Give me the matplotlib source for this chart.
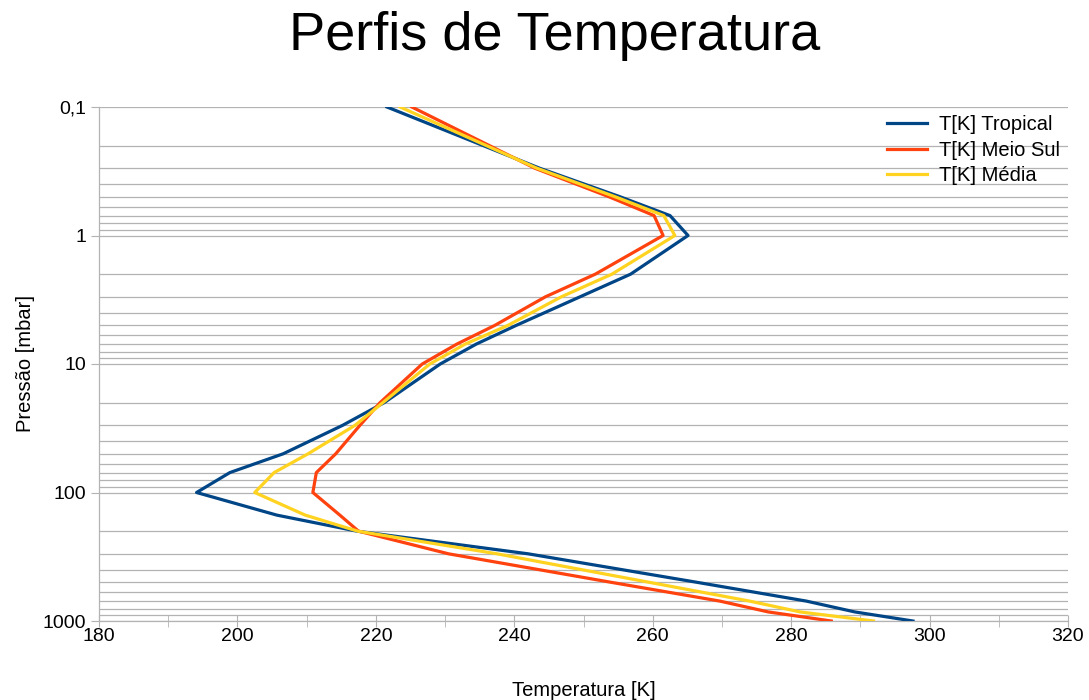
import matplotlib
matplotlib.use("Agg")
import matplotlib.pyplot as plt
from matplotlib.ticker import FixedLocator, FixedFormatter, MultipleLocator, LogLocator, NullFormatter

plt.rcParams['font.family'] = ['Liberation Sans', 'DejaVu Sans']

# Pressure levels [mbar]
pressure = [0.1, 0.3, 0.5, 0.7, 1, 2, 3, 5, 7, 10, 20, 30, 50, 70, 100, 150, 200, 300, 500, 700, 850, 1000]

# Temperature profiles [K]
t_tropical = [221.6, 243.7, 255.3, 262.5, 265.1, 256.8, 249.5, 240.3, 234.5, 229.3, 221.2, 215.2,
              206.6, 198.9, 194.1, 205.7, 217.3, 242.0, 266.4, 282.2, 289.2, 297.6]
t_meio_sul = [225.2, 243.0, 253.7, 260.2, 261.5, 251.7, 244.5, 237.2, 231.7, 226.7, 220.6, 217.7,
              214.2, 211.4, 210.9, 214.8, 217.5, 230.5, 254.0, 269.7, 276.7, 285.8]
t_media = [223.5, 243.3, 254.6, 261.6, 263.2, 254.1, 246.8, 239.1, 232.9, 227.8, 221.0, 217.0,
           210.2, 205.3, 202.5, 209.8, 217.4, 237.5, 259.5, 274.0, 281.3, 291.9]

series = [("T[K] Tropical", t_tropical, "#004586"),
          ("T[K] Meio Sul", t_meio_sul, "#ff420e"),
          ("T[K] Média", t_media, "#ffd320")]

ytick_vals = [0.1, 1, 10, 100, 1000]
ytick_labels = ["0,1", "1", "10", "100", "1000"]
xtick_vals = [180, 200, 220, 240, 260, 280, 300, 320]

fig = plt.figure(figsize=(10.89, 7.0), dpi=100)
ax = fig.add_axes([99/1089, 1 - 621/700, (1068-99)/1089, (621-107)/700])

for label, temps, color in series:
    ax.plot(temps, pressure, color=color, lw=2.3, label=label, zorder=3)

ax.set_yscale('log')
ax.set_ylim(1000, 0.1)
ax.set_xlim(180, 320)

ax.yaxis.set_major_locator(FixedLocator(ytick_vals))
ax.yaxis.set_major_formatter(FixedFormatter(ytick_labels))
ax.yaxis.set_minor_locator(LogLocator(base=10, subs=range(2, 10), numticks=20))
ax.yaxis.set_minor_formatter(NullFormatter())
ax.set_xticks(xtick_vals)
ax.xaxis.set_minor_locator(MultipleLocator(10))

ax.grid(True, which='both', axis='y', color='#b3b3b3', lw=0.9, zorder=0)
ax.tick_params(axis='y', which='major', length=6, color='#b3b3b3', labelsize=14, pad=3)
ax.tick_params(axis='y', which='minor', length=0)
ax.tick_params(axis='x', which='both', direction='inout', length=8, color='#b3b3b3', labelsize=14, pad=1)

for s in ['top', 'right']:
    ax.spines[s].set_visible(False)
for s in ['left', 'bottom']:
    ax.spines[s].set_color('#b3b3b3')
    ax.spines[s].set_linewidth(0.9)

ax.set_xlabel("Temperatura [K]", fontsize=14.5, labelpad=26)
ax.set_ylabel("Pressão [mbar]", fontsize=14.5, labelpad=6)

fig.text(555/1089, 1 - 36/700, "Perfis de Temperatura", fontsize=39, ha='center', va='center')

leg = ax.legend(loc='upper right', frameon=False, fontsize=14.5, handlelength=2.0,
                labelspacing=0.33, borderaxespad=0.0, handletextpad=0.6)

fig.savefig("out.png", dpi=100)
